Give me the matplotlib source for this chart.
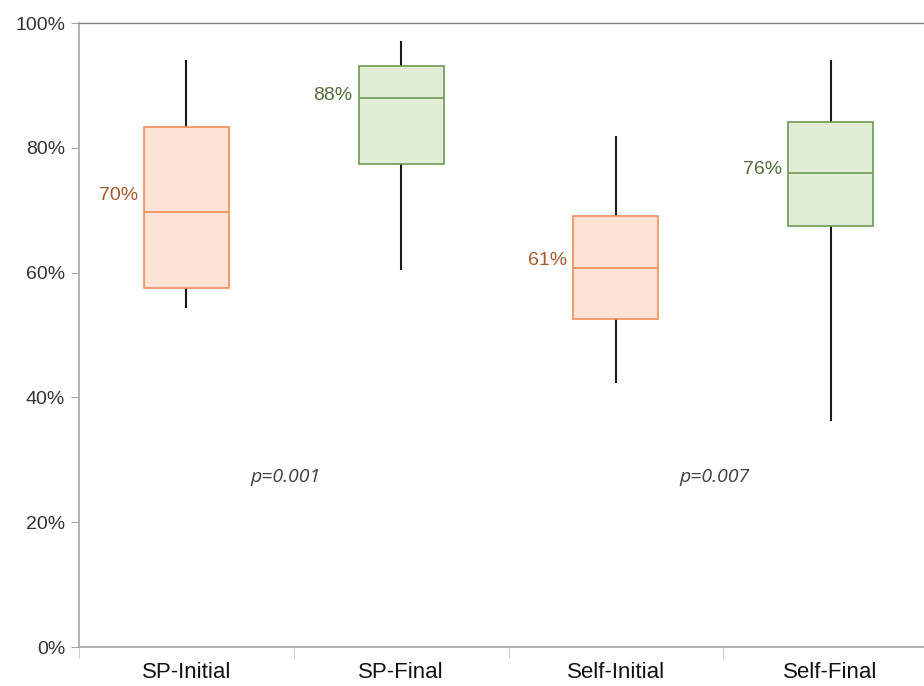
import matplotlib
matplotlib.use('Agg')
import matplotlib.pyplot as plt
from matplotlib.ticker import FuncFormatter, FixedLocator

# Box statistics (percent)
categories = ['SP-Initial', 'SP-Final', 'Self-Initial', 'Self-Final']
whisker_low = [54.5, 60.6, 42.5, 36.4]
q1 = [57.5, 77.4, 52.5, 67.5]
median = [69.7, 88.0, 60.8, 75.9]
q3 = [83.4, 93.1, 69.0, 84.1]
whisker_high = [93.9, 97.0, 81.8, 93.9]
median_labels = ['70%', '88%', '61%', '76%']
p_labels = ['p=0.001', 'p=0.007']

ORANGE_FILL, ORANGE_EDGE, ORANGE_TEXT = '#FDE3D5', '#EE8E55', '#A8582B'
GREEN_FILL, GREEN_EDGE, GREEN_TEXT = '#E2EDD6', '#6E9A52', '#4F6E3A'
fills = [ORANGE_FILL, GREEN_FILL, ORANGE_FILL, GREEN_FILL]
edges = [ORANGE_EDGE, GREEN_EDGE, ORANGE_EDGE, GREEN_EDGE]
text_cols = [ORANGE_TEXT, GREEN_TEXT, ORANGE_TEXT, GREEN_TEXT]
label_dy = [12, 2, 5, 3]  # points above median for the value labels

plt.rcParams['font.family'] = ['Liberation Sans', 'DejaVu Sans']

fig = plt.figure(figsize=(9.24, 6.86), dpi=100)
ax = fig.add_axes([79 / 924, 39 / 686, 859 / 924, 624 / 686])

stats = []
for i in range(len(categories)):
    stats.append({'med': median[i], 'q1': q1[i], 'q3': q3[i],
                  'whislo': whisker_low[i], 'whishi': whisker_high[i],
                  'fliers': [], 'label': categories[i]})

pos = list(range(1, len(categories) + 1))
bp = ax.bxp(stats, positions=pos, widths=0.395, patch_artist=True,
            showcaps=False, showfliers=False,
            whiskerprops=dict(color='#1a1a1a', linewidth=1.5),
            medianprops=dict(linewidth=1.2))

for i, box in enumerate(bp['boxes']):
    box.set_facecolor(fills[i])
    box.set_edgecolor(edges[i])
    box.set_linewidth(1.2)
    box.set_zorder(3)
    bp['medians'][i].set_color(edges[i])
    bp['medians'][i].set_zorder(4)
    ax.annotate(median_labels[i], (pos[i] - 0.2, median[i]),
                xytext=(-4, label_dy[i]), textcoords='offset points',
                ha='right', va='center', fontsize=14, color=text_cols[i])

for j, t in enumerate(p_labels):
    ax.text(1.46 + 2 * j, 27.3, t, ha='center', va='center', fontsize=14,
            style='italic', color='#404040', family=['Open Sans', 'DejaVu Sans'])

ax.set_xlim(0.5, 4.5)
ax.set_ylim(0, 100)
ax.set_yticks([0, 20, 40, 60, 80, 100])
ax.yaxis.set_major_formatter(FuncFormatter(lambda v, p: f'{int(v)}%'))
ax.tick_params(axis='y', length=6, color='#A6A6A6', labelsize=14,
               labelcolor='#333333', pad=4)

ax.set_xticks(pos)
ax.set_xticklabels(categories)
ax.tick_params(axis='x', which='major', length=0, labelsize=16,
               labelcolor='#111111', pad=11)
ax.xaxis.set_minor_locator(FixedLocator([0.5, 1.5, 2.5, 3.5, 4.5]))
ax.tick_params(axis='x', which='minor', length=8, color='#C8C8C8')

for s in ['left', 'bottom']:
    ax.spines[s].set_color('#A6A6A6')
    ax.spines[s].set_linewidth(1.2)
ax.spines['top'].set_color('#808080')
ax.spines['top'].set_linewidth(1.0)
ax.spines['right'].set_visible(False)

fig.savefig('out.png', dpi=100)
